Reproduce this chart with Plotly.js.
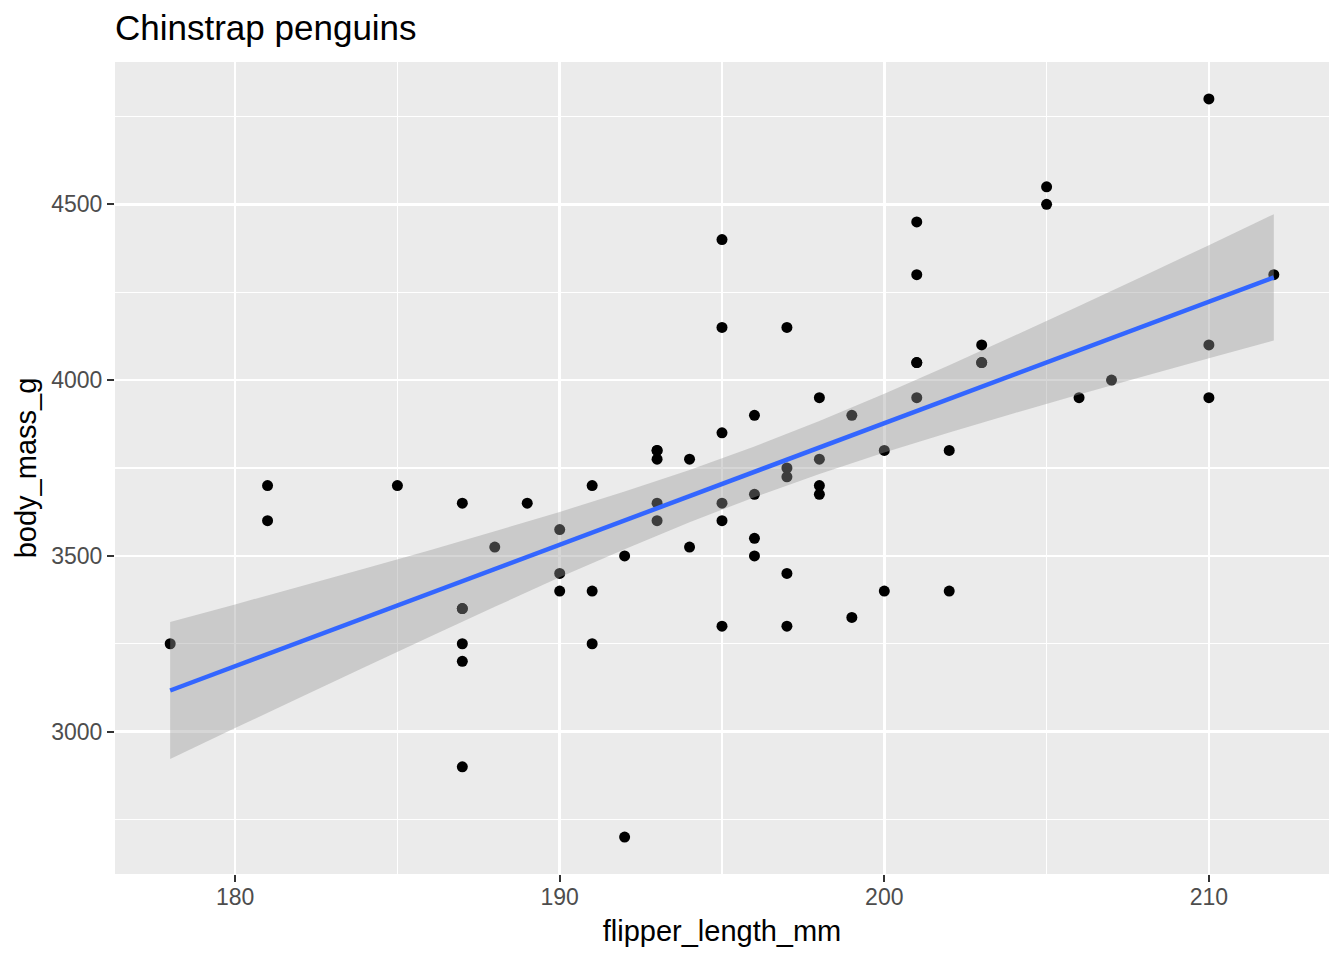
<!DOCTYPE html>
<html>
<head>
<meta charset="utf-8">
<script src="https://cdn.plot.ly/plotly-3.0.1.min.js"></script>
<style>html,body{margin:0;padding:0;background:#fff;}#chart{width:1344px;height:960px;}</style>
</head>
<body>
<div id="chart"></div>
<script>
// Chinstrap penguins: flipper length (mm) and body mass (g)
const flipperLength = [192,196,193,188,197,198,178,197,195,198,193,194,185,201,190,201,197,181,190,195,181,191,187,193,195,197,200,200,191,205,187,201,187,203,195,199,195,210,192,205,210,187,196,196,196,201,190,212,187,198,199,201,193,203,187,197,191,203,202,194,206,189,195,207,202,193,210,198];
const bodyMass = [3500,3900,3650,3525,3725,3950,3250,3750,4150,3700,3800,3775,3700,4050,3575,4050,3300,3700,3450,4400,3600,3400,2900,3800,3300,4150,3400,3800,3700,4550,3200,4300,3350,4100,3600,3900,3850,4800,2700,4500,3950,3650,3550,3500,3675,4450,3400,4300,3250,3675,3325,3950,3600,4050,3350,3450,3250,4050,3800,3525,3950,3650,3650,4000,3400,3775,4100,3775];

// linear fit line and its confidence band
const fitX  = [178,180,182,184,186,188,190,192,194,196,198,200,202,204,206,208,210,212];
const fitY  = [3117,3186,3255,3324,3393,3463,3532,3601,3670,3739,3808,3877,3947,4016,4085,4154,4223,4292];
const fitLo = [2922,3010,3097,3184,3270,3355,3439,3519,3596,3667,3733,3794,3851,3906,3959,4011,4062,4113];
const fitHi = [3312,3362,3413,3464,3516,3570,3625,3683,3744,3811,3884,3961,4042,4126,4211,4297,4384,4472];

const xTicks = [180,190,200,210];
const yTicks = [3000,3500,4000,4500];

const bandX = fitX.concat(fitX.slice().reverse());
const bandY = fitHi.concat(fitLo.slice().reverse());

const traces = [
  {type:'scatter', mode:'markers', x:flipperLength, y:bodyMass,
   marker:{color:'#000000', size:11, line:{width:0}}, hoverinfo:'x+y', showlegend:false},
  {type:'scatter', mode:'none', x:bandX, y:bandY, fill:'toself',
   fillcolor:'rgba(153,153,153,0.4)', hoverinfo:'skip', showlegend:false},
  {type:'scatter', mode:'lines', x:fitX, y:fitY,
   line:{color:'#3366FF', width:4.5}, hoverinfo:'skip', showlegend:false}
];

const layout = {
  width:1344, height:960,
  paper_bgcolor:'#FFFFFF', plot_bgcolor:'#EBEBEB',
  margin:{l:115, r:15, t:62, b:86},
  font:{family:'Liberation Sans, Arial, sans-serif', color:'#000000'},
  title:{text:'Chinstrap penguins', font:{size:35, color:'#000000'},
         xref:'paper', x:0, xanchor:'left', yref:'container', y:1-15/960, yanchor:'top'},
  xaxis:{range:[176.3,213.7], tickvals:xTicks, ticktext:xTicks.map(String),
         showgrid:true, gridcolor:'#FFFFFF', gridwidth:2.5, zeroline:false, showline:false,
         ticks:'outside', ticklen:7, tickwidth:2, tickcolor:'#333333',
         tickfont:{size:23, color:'#4D4D4D'}, ticklabelstandoff:-5,
         minor:{tickvals:[175,185,195,205], showgrid:true, gridcolor:'#FFFFFF', gridwidth:1.2, ticks:''},
         title:{text:'flipper_length_mm', font:{size:29, color:'#000000'}, standoff:12}},
  yaxis:{range:[2595,4905], tickvals:yTicks, ticktext:yTicks.map(String),
         showgrid:true, gridcolor:'#FFFFFF', gridwidth:2.5, zeroline:false, showline:false,
         ticks:'outside', ticklen:7, tickwidth:2, tickcolor:'#333333',
         tickfont:{size:23, color:'#4D4D4D'},
         minor:{tickvals:[2750,3250,3750,4250,4750], showgrid:true, gridcolor:'#FFFFFF', gridwidth:1.2, ticks:''},
         title:{text:'body_mass_g', font:{size:29, color:'#000000'}, standoff:6}}
};

Plotly.newPlot('chart', traces, layout, {displayModeBar:false, staticPlot:true});
</script>
</body>
</html>
